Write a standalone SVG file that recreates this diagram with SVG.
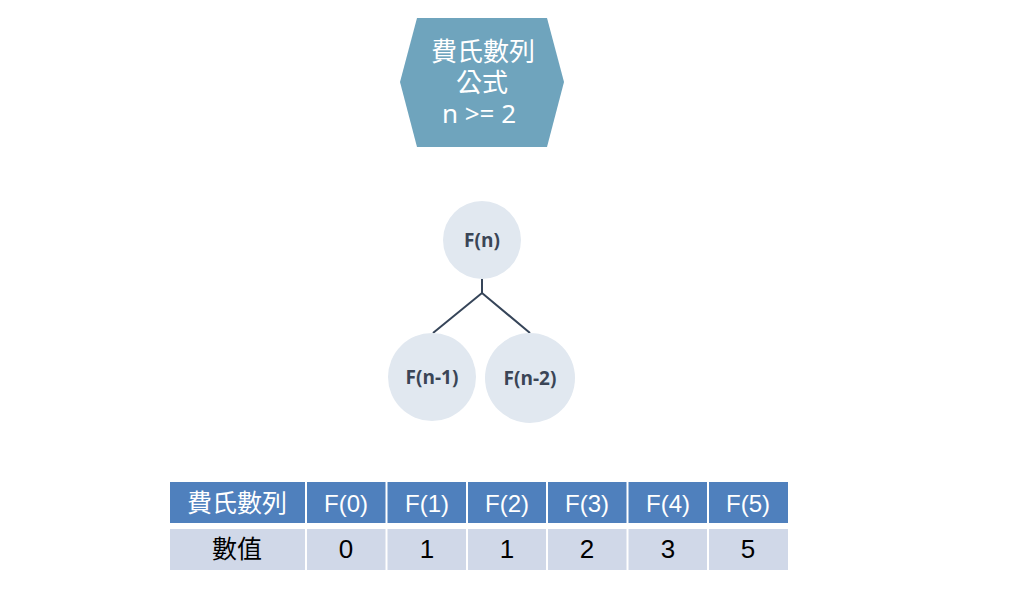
<svg xmlns="http://www.w3.org/2000/svg" width="1024" height="596" viewBox="0 0 1024 596">
<style>
.hex{fill:#6fa4bd}
.ht{fill:#ffffff;font-family:"Noto Sans CJK TC","Noto Sans",sans-serif;font-size:26px;text-anchor:middle}
.circ{fill:#e1e8f0}
.ct{fill:#3a4556;font-family:"Open Sans","Noto Sans",sans-serif;font-weight:bold;font-size:19px;text-anchor:middle}
.con{stroke:#364559;stroke-width:2;fill:none}
.th{fill:#4f80bd}
.td{fill:#d0d8e8}
.tht{fill:#ffffff;font-family:"Liberation Sans","Noto Sans CJK TC",sans-serif;font-size:24px;text-anchor:middle}
.tdt{fill:#000000;font-family:"Liberation Sans","Noto Sans CJK TC",sans-serif;font-size:26px;text-anchor:middle}
.cjk{font-family:"Noto Sans CJK TC",sans-serif;font-size:25px}
</style>
<rect width="1024" height="596" fill="#ffffff"/>
<g id="formula">
<polygon class="hex" points="417,18 547,18 564,82 547,147 417,147 400,82"/>
<text class="ht"><tspan x="483" y="61">費氏數列</tspan><tspan x="482" y="92">公式</tspan><tspan x="479" y="123" style="font-family:'Noto Sans','Open Sans',sans-serif">n &gt;= 2</tspan></text>
</g>
<g id="connectors">
<polyline class="con" points="482,279 482,293"/>
<polyline class="con" points="433,333 482,293 530,333"/>
</g>
<g id="fn">
<circle class="circ" cx="482" cy="240" r="39"/>
<text class="ct" x="482" y="247">F(n)</text>
</g>
<g id="fn1">
<circle class="circ" cx="432" cy="377" r="44"/>
<text class="ct" x="432" y="384">F(n-1)</text>
</g>
<g id="fn2">
<circle class="circ" cx="530" cy="378" r="45"/>
<text class="ct" x="530" y="385">F(n-2)</text>
</g>
<g id="table">
<rect class="th" x="170" y="482" width="135" height="41"/>
<rect class="th" x="307" y="482" width="78.5" height="41"/>
<rect class="th" x="387.5" y="482" width="78.5" height="41"/>
<rect class="th" x="468" y="482" width="78" height="41"/>
<rect class="th" x="548" y="482" width="78.5" height="41"/>
<rect class="th" x="628.5" y="482" width="78.5" height="41"/>
<rect class="th" x="709" y="482" width="79" height="41"/>
<rect class="td" x="170" y="529" width="135" height="41"/>
<rect class="td" x="307" y="529" width="78.5" height="41"/>
<rect class="td" x="387.5" y="529" width="78.5" height="41"/>
<rect class="td" x="468" y="529" width="78" height="41"/>
<rect class="td" x="548" y="529" width="78.5" height="41"/>
<rect class="td" x="628.5" y="529" width="78.5" height="41"/>
<rect class="td" x="709" y="529" width="79" height="41"/>
<text class="tht cjk" x="237" y="512">費氏數列</text>
<text class="tht" x="346" y="512">F(0)</text>
<text class="tht" x="427" y="512">F(1)</text>
<text class="tht" x="507" y="512">F(2)</text>
<text class="tht" x="587" y="512">F(3)</text>
<text class="tht" x="668" y="512">F(4)</text>
<text class="tht" x="748" y="512">F(5)</text>
<text class="tdt cjk" x="237" y="558">數值</text>
<text class="tdt" x="346" y="558">0</text>
<text class="tdt" x="427" y="558">1</text>
<text class="tdt" x="507" y="558">1</text>
<text class="tdt" x="587" y="558">2</text>
<text class="tdt" x="668" y="558">3</text>
<text class="tdt" x="748" y="558">5</text>
</g>
</svg>
